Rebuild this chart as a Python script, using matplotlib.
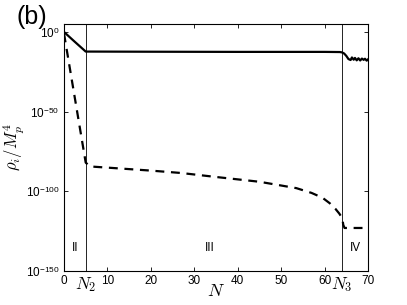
import matplotlib.pyplot as plt
import numpy as np

# donnees (log10 de rho_i / M_p^4)
N_sol = [0, 2.5, 5, 20, 40, 60, 63.5, 64, 64.5, 65, 65.5, 66, 66.3, 66.7, 67, 67.4, 67.8, 68.2,
         68.6, 69, 69.3, 69.7, 70]
logrho_sol = [0, -6.2, -12.3, -12.4, -12.5, -12.5, -12.6, -12.8, -13.5, -15.0, -17.0, -17.6,
              -16.0, -17.4, -16.3, -17.8, -16.5, -17.9, -16.7, -17.5, -16.8, -18.0, -17.2]

N_dash = [0, 2.5, 5, 6, 12, 20, 27, 35, 45, 53.5, 57, 59.5, 61.2, 62.5, 63.4, 64.1, 64.3, 64.6, 70]
logrho_dash = [-1, -41.5, -82, -84.4, -85.5, -87, -88.5, -91, -94, -98, -101, -104, -107.5, -111,
               -114, -117, -121, -123, -123]

N2 = 5
N3 = 64
regions = ["II", "III", "IV"]
regions_N = [2.5, 33.5, 67]

plt.rcParams['font.family'] = ['Liberation Sans', 'DejaVu Sans']
plt.rcParams['mathtext.fontset'] = 'cm'

fig = plt.figure(figsize=(4.07, 3.05), dpi=100)
ax = fig.add_axes([64/407, 1 - 271/305, (368 - 64)/407, (271 - 24)/305])

ax.plot(N_sol, 10.0**np.array(logrho_sol), color='k', lw=1.6)
ax.plot(N_dash, 10.0**np.array(logrho_dash), color='k', lw=1.6, ls=(0, (4, 3)))

ax.axvline(N2, color='k', lw=0.6)
ax.axvline(N3, color='k', lw=0.6)

for txt, n in zip(regions, regions_N):
    ax.text(n, 10.0**-135.5, txt, ha='center', va='center', fontsize=8.5)

ax.set_yscale('log')
ax.set_xlim(0, 70)
ax.set_ylim(1e-150, 1e5)
ax.set_yticks([1e-150, 1e-100, 1e-50, 1e0])
ax.set_yticklabels([r'10$^{\mathregular{-150}}$', r'10$^{\mathregular{-100}}$',
                    r'10$^{\mathregular{-50}}$', r'10$^{\mathregular{0}}$'])
ax.minorticks_off()

xt = [0, 10, 20, 30, 40, 50, 60, 70]
ax.set_xticks(xt + [N2, N3])
ax.set_xticklabels([str(v) for v in xt] + [r'$N_2$', r'$N_3$'])

ax.tick_params(direction='in', top=True, right=True, labelsize=8.5, length=3, width=0.6, pad=3)
# pas de petits traits pour N2 et N3, mais des labels plus grands
for t in ax.xaxis.get_major_ticks():
    if 'N' in t.label1.get_text():
        t.tick1line.set_visible(False)
        t.tick2line.set_visible(False)
        t.label1.set_fontsize(12.5)

for sp in ax.spines.values():
    sp.set_linewidth(0.8)

ax.set_xlabel(r'$N$', fontsize=13)
ax.xaxis.set_label_coords(0.5, -0.05)
ax.set_ylabel(r'$\rho_i/M_p^4$', fontsize=12)
ax.yaxis.set_label_coords(-0.125, 0.5)

fig.text(17/407, 1 - 17/305, '(b)', fontsize=18, va='center', ha='left')

fig.savefig('out.png', dpi=100)
